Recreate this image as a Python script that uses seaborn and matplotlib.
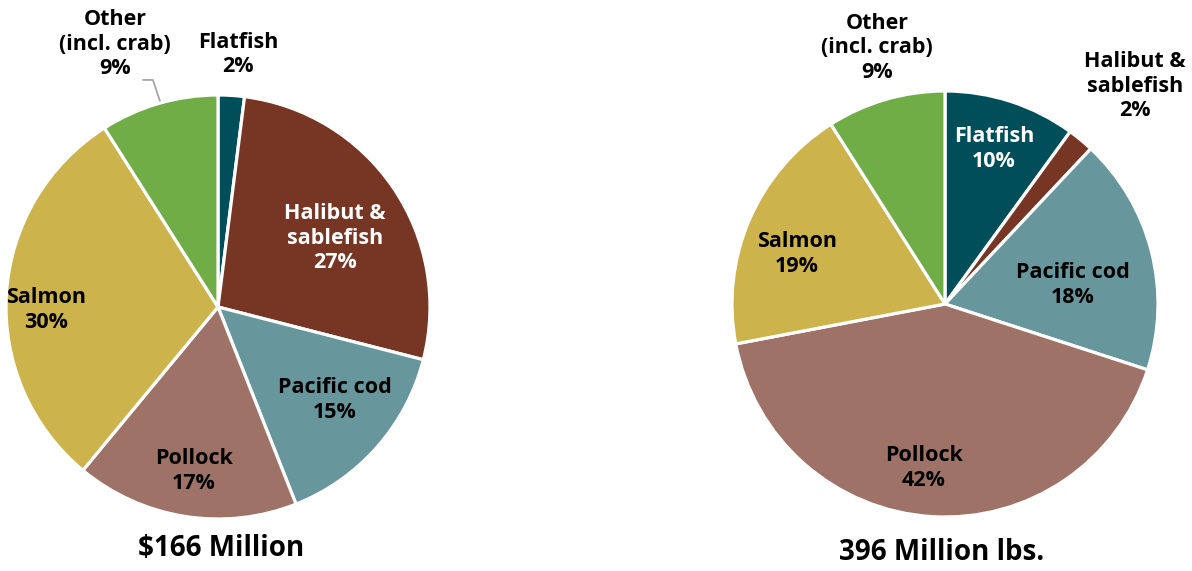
import matplotlib
matplotlib.use("Agg")
import matplotlib.pyplot as plt
import seaborn as sns

sns.set_theme(style="white")
plt.rcParams['font.family'] = ['Open Sans', 'DejaVu Sans']

# Data
categories = ["Flatfish", "Halibut & sablefish", "Pacific cod", "Pollock", "Salmon", "Other (incl. crab)"]
value_shares = [2, 27, 15, 17, 30, 9]      # $166 Million
volume_shares = [10, 2, 18, 42, 19, 9]     # 396 Million lbs.
titles = ["$166 Million", "396 Million lbs."]

colors = ["#004E5A", "#773524", "#67979C", "#9E7266", "#CDB34C", "#71AD47"]

label_names = ["Flatfish", "Halibut &\nsablefish", "Pacific cod", "Pollock", "Salmon", "Other\n(incl. crab)"]

# label placement (relative to pie centre, in radii) and text colour
left_pos = [(0.094, 1.19), (0.552, 0.325), (0.552, -0.439), (-0.113, -0.774), (-0.811, -0.014), (-0.486, 1.24)]
left_txt = ["black", "white", "black", "black", "black", "black"]
right_pos = [(0.230, 0.728), (0.892, 1.023), (0.601, 0.089), (-0.099, -0.770), (-0.695, 0.235), (-0.319, 1.202)]
right_txt = ["white", "black", "black", "black", "black", "black"]

W, H = 1192, 571
fig = plt.figure(figsize=(W / 100, H / 100), dpi=100)

def make_ax(cx, cy, r):
    return fig.add_axes([(cx - r) / W, (H - cy - r) / H, 2 * r / W, 2 * r / H])

specs = [
    (make_ax(218, 307, 212), value_shares, left_pos, left_txt, titles[0], (0.014, -1.137)),
    (make_ax(945, 304, 213), volume_shares, right_pos, right_txt, titles[1], (-0.014, -1.169)),
]

for ax, vals, pos, tcol, title, tpos in specs:
    ax.pie(vals, colors=colors, startangle=90, counterclock=False, radius=1,
           wedgeprops=dict(edgecolor="white", linewidth=2.3))
    ax.set_xlim(-1, 1)
    ax.set_ylim(-1, 1)
    ax.set_aspect("auto")
    ax.axis("off")
    for v, n, p, c in zip(vals, label_names, pos, tcol):
        ax.text(p[0], p[1], f"{n}\n{v}%", ha="center", va="center", color=c,
                fontsize=15.5, fontweight="bold", linespacing=1.22, clip_on=False)
    ax.text(tpos[0], tpos[1], title, ha="center", va="center", color="black",
            fontsize=20, fontweight="bold", clip_on=False)

# leader line for "Other" on left pie
axl = specs[0][0]
axl.plot([-0.354, -0.307, -0.274], [1.071, 1.071, 0.972], color="#A6A6A6", lw=1.3, clip_on=False)

fig.savefig("out.png", dpi=100)
